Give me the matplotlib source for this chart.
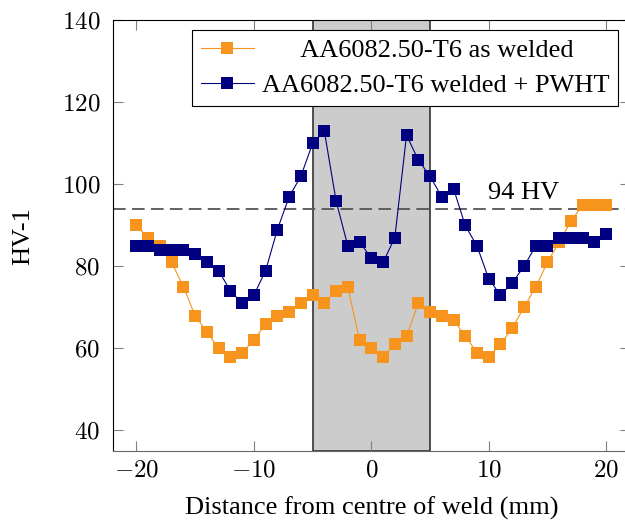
import numpy as np
import matplotlib
matplotlib.use('Agg')
import matplotlib.pyplot as plt

# Vickers hardness across the weld
distance = list(range(-20, 21))
hv_as_welded = [90, 87, 85, 81, 75, 68, 64, 60, 58, 59, 62, 66, 68, 69, 71, 73, 71, 74, 75, 62,
                60, 58, 61, 63, 71, 69, 68, 67, 63, 59, 58, 61, 65, 70, 75, 81, 86, 91, 95, 95, 95]
hv_pwht = [85, 85, 84, 84, 84, 83, 81, 79, 74, 71, 73, 79, 89, 97, 102, 110, 113, 96, 85, 86,
           82, 81, 87, 112, 106, 102, 97, 99, 90, 85, 77, 73, 76, 80, 85, 85, 87, 87, 87, 86, 88]
labels = ['AA6082.50-T6 as welded', 'AA6082.50-T6 welded + PWHT']
weld_zone = (-5, 5)
hv_limit = 94
xticks = [-20, -10, 0, 10, 20]
yticks = [40, 60, 80, 100, 120, 140]

plt.rcParams['font.family'] = ['Liberation Serif', 'DejaVu Serif']
plt.rcParams['mathtext.fontset'] = 'cm'

fig = plt.figure(figsize=(6.25, 5.21), dpi=100)
ax = fig.add_axes([0.1808, 0.1344, 0.8266, 0.8263])

ax.axvspan(weld_zone[0], weld_zone[1], facecolor='#cccccc', edgecolor='#333333', lw=1.2, zorder=0)
ax.axhline(hv_limit, color='#555555', lw=1.3, ls=(0, (7, 3.5)), zorder=1)
ax.text(13, 96.5, f'{hv_limit} HV', ha='center', va='baseline', fontsize=19)

ax.plot(distance, hv_as_welded, color='#f7941d', lw=0.8, marker='s', ms=8.5,
        markeredgewidth=0, label='      ' + labels[0], zorder=2)
ax.plot(distance, hv_pwht, color='#000080', lw=0.8, marker='s', ms=8.5,
        markeredgewidth=0, label=labels[1], zorder=3)

ax.set_xlim(-22, 22)
ax.set_ylim(35, 140)
ax.set_xticks(xticks)
ax.set_yticks(yticks)
ax.set_xticklabels([f'${v}$' for v in xticks])
ax.set_yticklabels([f'${v}$' for v in yticks])
ax.tick_params(direction='in', length=7.5, width=0.8, color='#808080', labelsize=18,
               top=True, right=True)
ax.tick_params(axis='y', pad=9)
ax.tick_params(axis='x', pad=6)
ax.spines['bottom'].set_color('#666666')

ax.set_xlabel('Distance from centre of weld (mm)', fontsize=19, labelpad=11)
ax.set_ylabel('HV-1', fontsize=19, labelpad=20)

leg = ax.legend(loc='upper right', bbox_to_anchor=(618 / 625, 1 - 30 / 521),
                bbox_transform=fig.transFigure, borderaxespad=0, fontsize=19,
                fancybox=False, framealpha=1, edgecolor='black', handlelength=2.0,
                handletextpad=0.3, borderpad=0.33, labelspacing=0.44)
leg.get_frame().set_linewidth(0.8)

fig.savefig('out.png', dpi=100)
